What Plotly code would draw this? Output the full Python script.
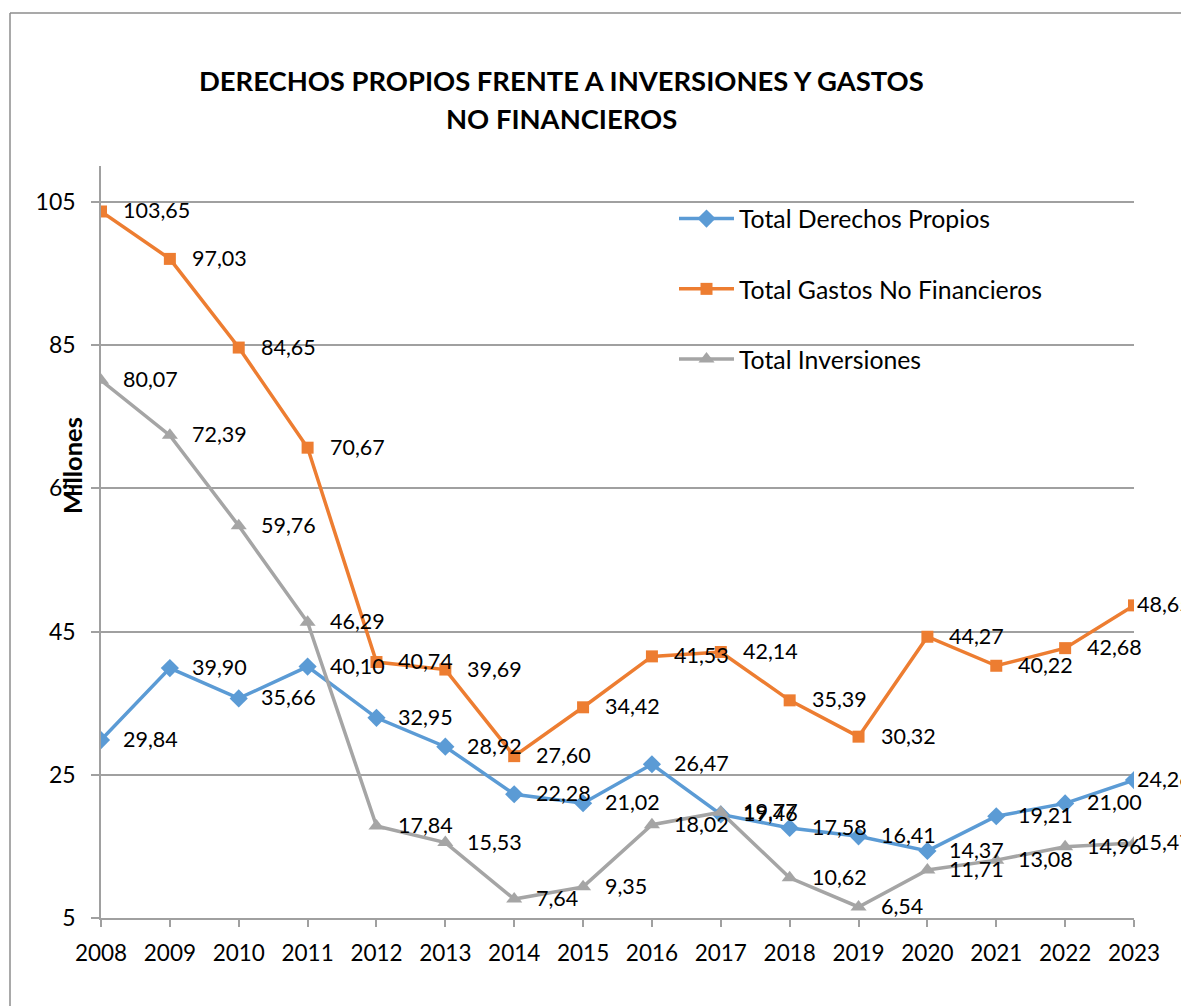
import plotly.graph_objects as go

years = list(range(2008, 2024))
derechos = [29.84, 39.90, 35.66, 40.10, 32.95, 28.92, 22.28, 21.02, 26.47, 19.46, 17.58, 16.41, 14.37, 19.21, 21.00, 24.26]
gastos = [103.65, 97.03, 84.65, 70.67, 40.74, 39.69, 27.60, 34.42, 41.53, 42.14, 35.39, 30.32, 44.27, 40.22, 42.68, 48.65]
inversiones = [80.07, 72.39, 59.76, 46.29, 17.84, 15.53, 7.64, 9.35, 18.02, 19.77, 10.62, 6.54, 11.71, 13.08, 14.96, 15.47]
y_ticks = [5, 25, 45, 65, 85, 105]

series = [
    ("Total Derechos Propios", derechos, "#5B9BD5", "diamond", 14),
    ("Total Gastos No Financieros", gastos, "#ED7D31", "square", 12),
    ("Total Inversiones", inversiones, "#A5A5A5", "triangle-up", 14),
]

FONT = "Lato, Calibri, 'Open Sans', sans-serif"
OFF = 8  # page body margin
W, H = 1189 - OFF, 1006 - OFF
L, R, T, B = 101 - OFF, 1189 - 1134, 166 - OFF, 1006 - 918
pw = W - L - R
ph = H - T - B


def px(xp):
    return (xp - 101) / pw


def py(yp):
    return (918 - yp) / ph


fig = go.Figure()
annotations = []
for i, (name, vals, color, sym, sz) in enumerate(series):
    fig.add_trace(go.Scatter(
        x=years, y=vals, name=name, mode="lines+markers",
        line=dict(color=color, width=3.5),
        marker=dict(symbol=sym, size=sz, color=color),
        legendgroup=f"g{i}",
    ))
    for j, (x, v) in enumerate(zip(years, vals)):
        last = j == len(years) - 1
        annotations.append(dict(
            x=x, y=v, xref="x", yref="y", text=f"{v:.2f}".replace(".", ","),
            showarrow=False, xanchor="left", yanchor="middle",
            xshift=1 if last else 20, yshift=1,
            font=dict(family=FONT, size=21.5, color="#000000"),
        ))

annotations.append(dict(
    x=px(72), y=py(466), xref="paper", yref="paper",
    text="<b>Millones</b>", textangle=-90, showarrow=False,
    font=dict(family=FONT, size=25.5, color="#000000"),
    xanchor="center", yanchor="middle",
))
for txt, yc in [("DERECHOS PROPIOS FRENTE A INVERSIONES Y GASTOS", 80), ("NO FINANCIEROS", 118)]:
    annotations.append(dict(
        x=px(561), y=py(yc), xref="paper", yref="paper",
        text=f"<b>{txt}</b>", showarrow=False, xanchor="center", yanchor="middle",
        font=dict(family=FONT, size=27.4, color="#000000"),
    ))

bx = px(10)
by = py(13)
shapes = [
    dict(type="line", xref="paper", yref="paper", x0=bx, x1=1.2, y0=by, y1=by,
         line=dict(color="#8C8C8C", width=1.5)),
    dict(type="line", xref="paper", yref="paper", x0=bx, x1=bx, y0=by, y1=-0.3,
         line=dict(color="#8C8C8C", width=1.5)),
]

fig.update_layout(
    width=W, height=H,
    margin=dict(l=L, r=R, t=T, b=B, pad=0),
    paper_bgcolor="white", plot_bgcolor="white",
    separators=",.",
    font=dict(family=FONT, size=22, color="#000000"),
    xaxis=dict(
        range=[2008, 2023], tickmode="array", tickvals=years,
        ticktext=[str(y) for y in years],
        showgrid=False, zeroline=False, showline=True, linecolor="#A0A0A0", linewidth=1.5,
        ticks="outside", ticklen=7, tickcolor="#A0A0A0", tickwidth=1.5,
        tickfont=dict(family=FONT, size=22.5, color="#000000"),
        ticklabelstandoff=7,
    ),
    yaxis=dict(
        range=[5, 110], tickmode="array", tickvals=y_ticks,
        showgrid=True, gridcolor="#A0A0A0", gridwidth=1.5,
        zeroline=False, showline=True, linecolor="#A0A0A0", linewidth=1.5,
        ticks="outside", ticklen=8, tickcolor="#A0A0A0", tickwidth=1.5,
        tickfont=dict(family=FONT, size=23, color="#000000"),
        ticklabelstandoff=11,
    ),
    legend=dict(
        x=px(674), y=py(196), xanchor="left", yanchor="top",
        bgcolor="rgba(0,0,0,0)", font=dict(family=FONT, size=24.8, color="#000000"),
        traceorder="grouped", tracegroupgap=35, itemwidth=55,
    ),
    annotations=annotations,
    shapes=shapes,
)

fig.write_html("out.html")
